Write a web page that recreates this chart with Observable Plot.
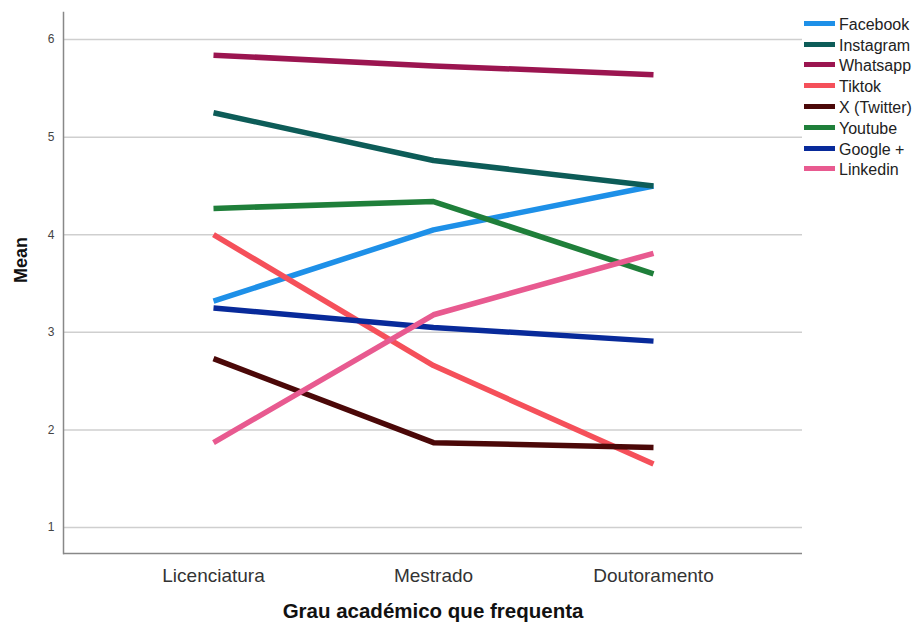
<!DOCTYPE html>
<html><head><meta charset="utf-8">
<script src="https://cdn.jsdelivr.net/npm/d3@7"></script>
<script src="https://cdn.jsdelivr.net/npm/@observablehq/plot@0.6"></script>
<style>
body{margin:0;background:#fff;font-family:"Liberation Sans",Arial,sans-serif;}
#wrap{position:relative;width:915px;height:625px;}
#legend{position:absolute;left:804px;top:0;width:111px;height:200px;}
.sw{position:absolute;left:0;width:31px;height:5px;}
.lb{position:absolute;left:35px;font-size:16px;color:#222;line-height:20px;white-space:nowrap;}
</style></head><body><div id="wrap"><div id="legend"></div></div>
<script>
const categories = ["Licenciatura", "Mestrado", "Doutoramento"];
const seriesNames = ["Facebook", "Instagram", "Whatsapp", "Tiktok", "X (Twitter)", "Youtube", "Google +", "Linkedin"];
const seriesColors = ["#1e90e8", "#0d5c58", "#9b1550", "#f5505a", "#4b0808", "#1f7f3a", "#082a9a", "#e85a90"];
const facebook = [3.32, 4.05, 4.50];
const instagram = [5.25, 4.76, 4.50];
const whatsapp = [5.84, 5.73, 5.64];
const tiktok = [4.00, 2.66, 1.65];
const xTwitter = [2.73, 1.87, 1.82];
const youtube = [4.27, 4.34, 3.60];
const googlePlus = [3.25, 3.05, 2.91];
const linkedin = [1.87, 3.18, 3.81];
const yTicks = [1, 2, 3, 4, 5, 6];
const xTitle = "Grau académico que frequenta";
const yTitle = "Mean";

const seriesValues = [facebook, instagram, whatsapp, tiktok, xTwitter, youtube, googlePlus, linkedin];
const rows = [];
seriesNames.forEach((s, i) => categories.forEach((c, j) => rows.push({series: s, cat: c, value: seriesValues[i][j]})));

const yMin = 0.734, yMax = 6.277;
const chart = Plot.plot({
  width: 915, height: 625,
  marginLeft: 63, marginRight: 113, marginTop: 12, marginBottom: 72,
  style: {fontFamily: "Liberation Sans, Arial, sans-serif", background: "#fff"},
  x: {type: "point", domain: categories, padding: 0.676, label: null},
  y: {domain: [yMin, yMax], label: null},
  color: {domain: seriesNames, range: seriesColors},
  marks: [
    Plot.gridY(yTicks, {stroke: "#cfcfcf", strokeOpacity: 1, strokeWidth: 1.5}),
    Plot.axisY(yTicks, {tickSize: 0, tickPadding: 9, fontSize: 12, fill: "#444", label: null, tickFormat: d => String(d)}),
    Plot.axisX({tickSize: 0, tickPadding: 15, fontSize: 19, fill: "#333", label: null}),
    Plot.ruleY([yMin], {stroke: "#888", strokeWidth: 1.5}),
    Plot.frame({anchor: "left", stroke: "#888", strokeWidth: 1.5}),
    Plot.line(rows, {x: "cat", y: "value", z: "series", stroke: "series", strokeWidth: 5.5, strokeLinejoin: "round", strokeLinecap: "butt"}),
    Plot.text([xTitle], {frameAnchor: "bottom", dy: 64, fontSize: 20.5, fontWeight: "bold", fill: "#111"}),
    Plot.text([yTitle], {frameAnchor: "left", dx: -42, rotate: -90, fontSize: 18, fontWeight: "bold", fill: "#111"})
  ]
});
const wrap = document.getElementById("wrap");
wrap.insertBefore(chart, wrap.firstChild);

const legend = document.getElementById("legend");
seriesNames.forEach((s, i) => {
  const cy = 23.3 + 20.8 * i;
  const sw = document.createElement("div");
  sw.className = "sw"; sw.style.top = (cy - 2.5) + "px"; sw.style.background = seriesColors[i];
  const lb = document.createElement("div");
  lb.className = "lb"; lb.style.top = (cy - 8.5) + "px"; lb.textContent = s;
  legend.appendChild(sw); legend.appendChild(lb);
});
</script></body></html>
